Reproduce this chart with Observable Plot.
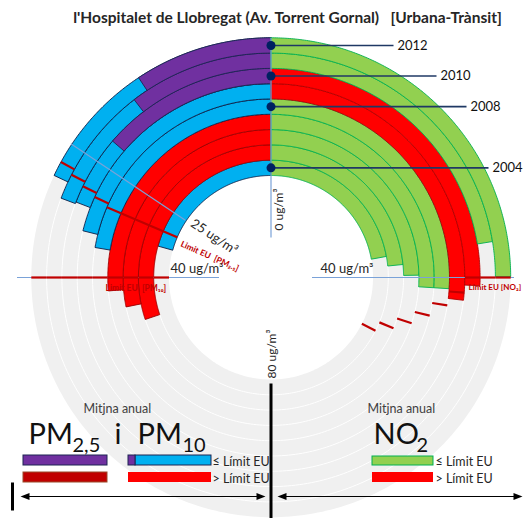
<!DOCTYPE html>
<html><head><meta charset="utf-8">
<script src="https://cdn.jsdelivr.net/npm/d3@7"></script>
<script src="https://cdn.jsdelivr.net/npm/@observablehq/plot@0.6"></script>
<style>
html,body{margin:0;padding:0;background:#fff;width:523px;height:518px;overflow:hidden}
#title{height:28px;box-sizing:border-box;padding-top:9px;padding-left:52px;text-align:center;font:bold 15.5px Lato,sans-serif;color:#262626;white-space:pre;line-height:17px}
#chart svg{display:block}
</style></head><body>
<div id="title">l'Hospitalet de Llobregat (Av. Torrent Gornal)   [Urbana-Trànsit]</div>
<div id="chart"></div>
<script>
// ---------- data (ug/m3, annual means) ----------
const years = [2004, 2005, 2006, 2007, 2008, 2009, 2010, 2011, 2012];
const pm10 = [33.1, 48.2, 45.1, 42.1, 35.7, 33.8, 30.6, 30.8, 28.8];
const pm25 = [null, null, null, null, null, null, 21.9, 16.7, 14.9];
const no2 = [35.4, 37.5, 39.6, 41.6, 41.6, 43.0, 41.0, 35.9, 39.9];
const pm10Limit = [40, 40, 40, 40, 40, 40, 40, 40, 40];
const pm25Limit = [29.7, 29.7, 29.7, 29.7, 29.7, 29.1, 28.5, 27.9, 27.2];
const no2Limit = [52, 50, 48, 46, 44, 42, 40, 40, 40];
const labelledYears = [2012, 2010, 2008, 2004];
const scaleMax = 80; // ug/m3 reached at 180 degrees

// ---------- layout ----------
const W = 523, H = 490, TOP = 28, CXP = 270.5, CYP = 277;
const X = px => px - CXP, Y = py => py - CYP;
const R0 = 102, RW = 15.3, ROUT = R0 + RW * years.length;
const C = {blue: "#00b0f0", red: "#ff0000", purple: "#7030a0", darkred: "#c00000", green: "#92d050",
  greenLine: "#00b050", navy: "#002060", ref: "#7aa2d8", gray: "#f0f0f0", text: "#262626"};
const F = "Lato, 'Open Sans', sans-serif";

const rad = v => v / scaleMax * Math.PI;
const P = (v, r, side) => ({x: side * r * Math.sin(rad(v)), y: -r * Math.cos(rad(v))});

function arc(id, v, r0, r1, side, fill, stroke) {
  const n = Math.max(4, Math.ceil(v / 0.2)), out = [];
  for (let k = 0; k <= n; k++) out.push({id, fill, stroke, ...P(v * k / n, r1, side)});
  for (let k = n; k >= 0; k--) out.push({id, fill, stroke, ...P(v * k / n, r0, side)});
  out.push({...out[0]});
  return out;
}
function circle(id, r) {
  const out = [];
  for (let k = 0; k <= 320; k++) out.push({id, ...P(k * 0.5, r, 1)});
  return out;
}

const ring = i => ({r0: R0 + i * RW, r1: R0 + (i + 1) * RW, rm: R0 + (i + 0.5) * RW});

const pm10Bars = [], pm25Bars = [], no2Bars = [], limits = [];
years.forEach((yr, i) => {
  const {r0, r1} = ring(i);
  const o10 = pm10[i] > pm10Limit[i];
  pm10Bars.push(...arc("pm10" + yr, pm10[i], r0, r1, -1, o10 ? C.red : C.blue, o10 ? "#9a0000" : "#0d1d45"));
  if (pm25[i] != null) {
    const o25 = pm25[i] > pm25Limit[i];
    pm25Bars.push(...arc("pm25" + yr, pm25[i], r0, r1, -1, o25 ? C.darkred : C.purple, "#1c2552"));
  }
  const on = no2[i] > no2Limit[i];
  no2Bars.push(...arc("no2" + yr, no2[i], r0, r1, 1, on ? C.red : C.green, on ? "#b00000" : C.greenLine));
  limits.push({v: pm10Limit[i], side: -1, r0, r1});
  limits.push({v: pm25Limit[i], side: -1, r0, r1});
  limits.push({v: no2Limit[i], side: 1, r0, r1});
});

const separators = [];
for (let i = 1; i < years.length; i++) separators.push(...circle("s" + i, R0 + i * RW));

const refLines = [
  {v: 0, side: 1, r0: 40, r1: ROUT},
  {v: 25, side: -1, r0: 103, r1: ROUT + 1},
  {v: 40, side: -1, r0: 52, r1: 254},
  {v: 40, side: 1, r0: 41, r1: 243}
];

const yearMarks = labelledYears.map(yr => {
  const i = years.indexOf(yr), {rm} = ring(i);
  const labelX = {2012: 126.5, 2010: 169.5, 2008: 199.5, 2004: 221.5}[yr];
  return {yr, y: -rm, x2: labelX - 4, lx: labelX};
});

// ---------- legend / annotation layout ----------
const tl = (text, x, base, fs, o = {}) => ({text, x: X(x), y: Y(base) - 0.32 * fs, fs, anchor: "start", fill: C.text, weight: "normal", rotate: 0, ...o});
const texts = [
  tl("Mitjna anual", 83, 412, 12.5, {fill: "#404040"}),
  tl("Mitjna anual", 367, 412, 12.5, {fill: "#404040"}),
  tl("PM", 28, 443, 29, {fill: "#111"}),
  tl("2,5", 72, 451, 20, {fill: "#111"}),
  tl("i", 114, 443, 29, {fill: "#111"}),
  tl("PM", 137, 443, 29, {fill: "#111"}),
  tl("10", 182, 451, 20, {fill: "#111"}),
  tl("NO", 373, 443, 29, {fill: "#111"}),
  tl("2", 416, 451, 20, {fill: "#111"}),
  tl("≤ Límit EU", 212, 465, 12.5),
  tl("> Límit EU", 212, 482, 12.5),
  tl("≤ Límit EU", 435, 465, 12.5),
  tl("> Límit EU", 435, 482, 12.5),
  tl("40 ug/m³", 170, 272, 13),
  tl("40 ug/m³", 320, 272, 13),
  tl("Limit EU  [PM₁₀]", 105, 290, 8.5, {fill: C.darkred, weight: "bold"}),
  tl("Limit EU [NO₂]", 468, 289, 8, {fill: C.darkred, weight: "bold"})
];
const p25 = P(25, 96, -1), pl = P(pm25Limit[0], 99, -1);
const rotTexts = [
  {text: "25 ug/m³", x: p25.x + 1, y: p25.y - 2, fs: 13, rotate: 90 - 25 / scaleMax * 180, fill: C.text, weight: "normal"},
  {text: "Limit EU  [PM₂.₅]", x: pl.x + 1, y: pl.y + 5, fs: 8.5, rotate: 24, fill: C.darkred, weight: "bold"},
  {text: "0 ug/m³", x: 8.5, y: -68, fs: 12, rotate: -90, fill: C.text, weight: "normal", anchor: "middle"},
  {text: "80 ug/m³", x: 1, y: 76.5, fs: 12, rotate: -90, fill: C.text, weight: "normal", anchor: "middle"}
];
const legendRects = [
  {x1: 23, x2: 107, y1: 455, y2: 465, fill: C.purple, stroke: "#1c2552"},
  {x1: 23, x2: 107, y1: 472, y2: 482, fill: C.darkred, stroke: "#9a4a2a"},
  {x1: 135, x2: 211, y1: 455, y2: 465, fill: C.blue, stroke: "#1c2552"},
  {x1: 128, x2: 135, y1: 455, y2: 465, fill: C.purple, stroke: "#1c2552"},
  {x1: 128, x2: 211, y1: 472, y2: 482, fill: C.red, stroke: "none"},
  {x1: 372, x2: 433, y1: 456, y2: 465, fill: C.green, stroke: C.greenLine},
  {x1: 372, x2: 433, y1: 472, y2: 482, fill: C.red, stroke: "none"}
];
const blackLines = [
  {x1: 0, y1: Y(383), x2: 0, y2: Y(520), w: 3},
  {x1: X(12), y1: Y(482), x2: X(12), y2: Y(510), w: 3},
  {x1: X(24), y1: Y(496), x2: X(261), y2: Y(496), w: 1},
  {x1: X(281), y1: Y(496), x2: X(518), y2: Y(496), w: 1}
];
const heads = [];
[[20, -1], [265, 1], [277, -1], [522, 1]].forEach(([tip, dir], k) => {
  const pts = [[tip, 496], [tip - dir * 9, 492.5], [tip - dir * 9, 499.5], [tip, 496]];
  pts.forEach(([a, b]) => heads.push({id: k, x: X(a), y: Y(b)}));
});

const textMark = (data) => [
  ...["normal", "bold"].flatMap(w => [...new Set(data.map(d => d.fs))].flatMap(fs =>
    ["start", "middle"].map(anchor => Plot.text(data.filter(d => d.weight === w && d.fs === fs && (d.anchor || "start") === anchor), {
      x: "x", y: "y", text: "text", fill: "fill", rotate: "rotate", fontSize: fs, fontWeight: w,
      fontFamily: F, textAnchor: anchor, lineAnchor: "middle"
    }))))
];

const chart = Plot.plot({
  width: W, height: H, margin: 0,
  x: {type: "linear", domain: [-CXP, W - CXP], range: [0, W], axis: null},
  y: {type: "linear", domain: [TOP - CYP, TOP + H - CYP], range: [0, H], axis: null},
  color: {type: "identity"},
  marks: [
    Plot.line(circle("bg", ROUT), {x: "x", y: "y", fill: C.gray, stroke: "none"}),
    Plot.line(circle("hole", R0), {x: "x", y: "y", fill: "white", stroke: "none"}),
    Plot.line(separators, {x: "x", y: "y", z: "id", stroke: "white", strokeWidth: 1}),
    Plot.line(pm10Bars, {x: "x", y: "y", z: "id", fill: "fill", stroke: "stroke", strokeWidth: 0.9}),
    Plot.line(pm25Bars, {x: "x", y: "y", z: "id", fill: "fill", stroke: "stroke", strokeWidth: 0.9}),
    Plot.line(no2Bars, {x: "x", y: "y", z: "id", fill: "fill", stroke: "stroke", strokeWidth: 0.9}),
    Plot.link(refLines, {x1: d => P(d.v, d.r0, d.side).x, y1: d => P(d.v, d.r0, d.side).y,
      x2: d => P(d.v, d.r1, d.side).x, y2: d => P(d.v, d.r1, d.side).y, stroke: C.ref, strokeWidth: 1.2}),
    Plot.link(limits, {x1: d => P(d.v, d.r0, d.side).x, y1: d => P(d.v, d.r0, d.side).y,
      x2: d => P(d.v, d.r1, d.side).x, y2: d => P(d.v, d.r1, d.side).y, stroke: C.darkred, strokeWidth: 2.2}),
    Plot.link(yearMarks, {x1: 0, y1: "y", x2: "x2", y2: "y", stroke: "#1f3864", strokeWidth: 1.6}),
    Plot.dot(yearMarks, {x: 0, y: "y", r: 4.5, fill: C.navy, stroke: "none"}),
    Plot.text(yearMarks, {x: "lx", y: "y", text: d => String(d.yr), textAnchor: "start", lineAnchor: "middle",
      fontSize: 13, fontFamily: F, fill: "#111"}),
    Plot.rect(legendRects, {x1: d => X(d.x1), x2: d => X(d.x2), y1: d => Y(d.y1), y2: d => Y(d.y2), fill: "fill", stroke: "stroke", strokeWidth: 1}),
    Plot.link(blackLines, {x1: "x1", y1: "y1", x2: "x2", y2: "y2", stroke: "black", strokeWidth: "w"}),
    Plot.line(heads, {x: "x", y: "y", z: "id", fill: "black", stroke: "none"}),
    ...textMark(texts),
    ...textMark(rotTexts)
  ]
});
document.getElementById("chart").appendChild(chart);
</script></body></html>
